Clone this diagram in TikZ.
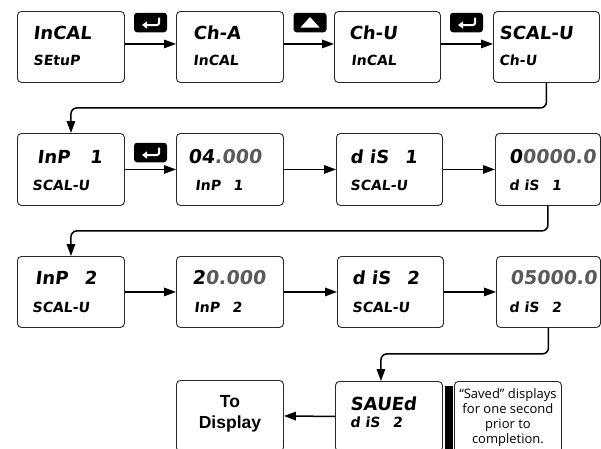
\documentclass[tikz,border=0pt]{standalone}
\usepackage{fontspec}
\usetikzlibrary{arrows.meta,calc}
\newfontfamily\lcdfont[FakeSlant=0.12]{DejaVu Sans}
\newfontfamily\helvfont{Liberation Sans}
\newfontfamily\notefont{Open Sans}
\definecolor{segray}{RGB}{90,90,90}
\definecolor{boxline}{RGB}{40,40,40}
\begin{document}
\begin{tikzpicture}[x=1pt,y=-1pt,
  dbox/.style={draw=boxline, line width=0.9pt, rounded corners=4pt, inner sep=0pt, anchor=north west, fill=white},
  big/.style={font=\lcdfont\bfseries\fontsize{18}{20}\selectfont, inner sep=0pt, anchor=base west},
  num/.style={font=\lcdfont\bfseries\fontsize{19}{21}\selectfont, inner sep=0pt, anchor=base west, text=segray},
  small/.style={font=\lcdfont\bfseries\fontsize{14}{16}\selectfont, inner sep=0pt, anchor=base west},
  arr/.style={line width=1.5pt, -{Triangle[length=12pt,width=8.5pt]}},
  elbow/.style={arr, rounded corners=6pt},
  keybox/.style={fill=black, rounded corners=3pt, minimum width=33pt, minimum height=19.5pt, inner sep=0pt},
  hook/.style={draw=white, line width=2pt, rounded corners=2pt, -{Triangle[length=5pt,width=7pt]}}
]
\useasboundingbox (0,0) rectangle (601,448);
\clip (0,0) rectangle (601,448);

% ---------- Row 1 ----------
\node[dbox, minimum width=107pt, minimum height=71pt] (r1a) at (17,11) {};
\node[dbox, minimum width=107pt, minimum height=71pt] (r1b) at (176,11) {};
\node[dbox, minimum width=106pt, minimum height=71pt] (r1c) at (334,11) {};
\node[dbox, minimum width=106pt, minimum height=71pt] (r1d) at (493,11) {};

\node[big]   (r1a1) at ([shift={(16,28)}]r1a.north west) {InCAL};
\node[small] (r1a2) at ([shift={(16,54)}]r1a.north west) {SEtuP};
\node[big]   (r1b1) at ([shift={(17,28)}]r1b.north west) {Ch-A};
\node[small] (r1b2) at ([shift={(17,54)}]r1b.north west) {InCAL};
\node[big]   (r1c1) at ([shift={(15,28)}]r1c.north west) {Ch-U};
\node[small] (r1c2) at ([shift={(17,54)}]r1c.north west) {InCAL};
\node[big]   (r1d1) at ([shift={(6,28)}]r1d.north west) {SCAL-U};
\node[small] (r1d2) at ([shift={(6,54)}]r1d.north west) {Ch-U};

% ---------- Row 2 ----------
\node[dbox, minimum width=107pt, minimum height=72pt] (r2a) at (17,133) {};
\node[dbox, minimum width=107pt, minimum height=72pt] (r2b) at (176,133) {};
\node[dbox, minimum width=106pt, minimum height=72pt] (r2c) at (336,133) {};
\node[dbox, minimum width=105pt, minimum height=72pt] (r2d) at (495,133) {};

\node[big]   (r2a1) at ([shift={(20,30)}]r2a.north west) {InP\hspace{1.1em}1};
\node[small] (r2a2) at ([shift={(15,57)}]r2a.north west) {SCAL-U};
\node[num]   (r2b1) at ([shift={(12,30)}]r2b.north west) {\textcolor{black}{04}.000};
\node[small] (r2b2) at ([shift={(19,57)}]r2b.north west) {InP\hspace{0.9em}1};
\node[big]   (r2c1) at ([shift={(14,30)}]r2c.north west) {d iS\hspace{0.9em}1};
\node[small] (r2c2) at ([shift={(14,57)}]r2c.north west) {SCAL-U};
\node[num]   (r2d1) at ([shift={(14,30)}]r2d.north west) {\textcolor{black}{0}0000.0};
\node[small] (r2d2) at ([shift={(14,57)}]r2d.north west) {d iS\hspace{0.9em}1};

% ---------- Row 3 ----------
\node[dbox, minimum width=107pt, minimum height=71pt] (r3a) at (17,256) {};
\node[dbox, minimum width=107pt, minimum height=71pt] (r3b) at (176,256) {};
\node[dbox, minimum width=106pt, minimum height=71pt] (r3c) at (337,256) {};
\node[dbox, minimum width=104pt, minimum height=71pt] (r3d) at (496,256) {};

\node[big]   (r3a1) at ([shift={(18,28)}]r3a.north west) {InP\hspace{0.9em}2};
\node[small] (r3a2) at ([shift={(15,56)}]r3a.north west) {SCAL-U};
\node[num]   (r3b1) at ([shift={(16,28)}]r3b.north west) {\textcolor{black}{2}0.000};
\node[small] (r3b2) at ([shift={(18,56)}]r3b.north west) {InP\hspace{0.9em}2};
\node[big]   (r3c1) at ([shift={(15,28)}]r3c.north west) {d iS\hspace{0.9em}2};
\node[small] (r3c2) at ([shift={(15,56)}]r3c.north west) {SCAL-U};
\node[num]   (r3d1) at ([shift={(14,28)}]r3d.north west) {05000.0};
\node[small] (r3d2) at ([shift={(13,56)}]r3d.north west) {d iS\hspace{0.9em}2};

% ---------- Bottom row ----------
\node[dbox, minimum width=107pt, minimum height=71pt] (td) at (176,380) {};
\node[dbox, minimum width=107pt, minimum height=70pt] (sv) at (335,381) {};
\node[dbox, minimum width=107pt, minimum height=75pt] (note) at (454,381) {};
\fill[black] (445,386) rectangle (453,460);

\node[font=\helvfont\bfseries\fontsize{17.5}{21}\selectfont, align=center, anchor=north, inner sep=0pt] (tdt) at ([yshift=-15pt]td.north) {To\\Display};
\node[big]   (sv1) at ([shift={(15,29)}]sv.north west) {SAUEd};
\node[small] (sv2) at ([shift={(15,46)}]sv.north west) {d iS\hspace{0.9em}2};
\node[font=\notefont\fontsize{13}{15.2}\selectfont, align=center, anchor=north, inner sep=0pt] (notet) at ([yshift=-7pt]note.north) {“Saved” displays\\for one second\\prior to\\completion.};

% ---------- Keys ----------
\node[keybox] (k1) at (150.5,22.5) {};
\node[keybox] (k2) at (310,22.5) {};
\node[keybox] (k3) at (466.5,22.5) {};
\node[keybox] (k4) at (150.5,152.5) {};
\draw[hook] ([shift={(8.5,-5)}]k1.center) -- ([shift={(8.5,2.5)}]k1.center) -- ([shift={(-8.5,2.5)}]k1.center);
\draw[hook] ([shift={(8.5,-5)}]k3.center) -- ([shift={(8.5,2.5)}]k3.center) -- ([shift={(-8.5,2.5)}]k3.center);
\draw[hook] ([shift={(8.5,-5)}]k4.center) -- ([shift={(8.5,2.5)}]k4.center) -- ([shift={(-8.5,2.5)}]k4.center);
\fill[white] ([shift={(-9.5,5)}]k2.center) -- ([shift={(9.5,5)}]k2.center) -- ([shift={(0,-5.5)}]k2.center) -- cycle;

% ---------- Connectors ----------
\draw[arr] ([yshift=3pt]r1a.east) -- ([yshift=3pt]r1b.west);
\draw[arr] ([yshift=3pt]r1b.east) -- ([yshift=3pt]r1c.west);
\draw[arr] ([yshift=3pt]r1c.east) -- ([yshift=3pt]r1d.west);
\draw[elbow] (r1d.south) -- ++(0,25) -| (r2a.north);

\draw[arr] (r2a.east) -- (r2b.west);
\draw[arr] (r2b.east) -- (r2c.west);
\draw[arr] (r2c.east) -- (r2d.west);
\draw[elbow] (r2d.south) -- ++(0,25) -| (r3a.north);

\draw[arr] (r3a.east) -- (r3b.west);
\draw[arr] (r3b.east) -- (r3c.west);
\draw[arr] (r3c.east) -- (r3d.west);
\coordinate (svin) at ([xshift=-8pt]sv.north);
\draw[elbow] (r3d.south) -- ++(0,26) -| (svin);

\draw[arr] (sv.west) -- (td.east);
\end{tikzpicture}
\end{document}
